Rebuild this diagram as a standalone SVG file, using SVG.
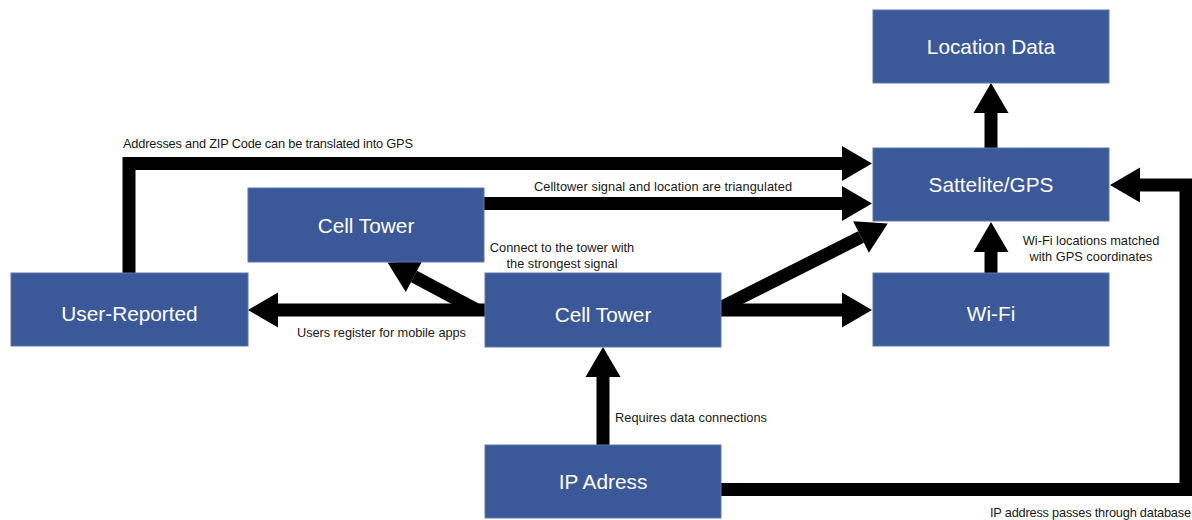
<svg xmlns="http://www.w3.org/2000/svg" width="1192" height="520" viewBox="0 0 1192 520">
<style>
.node rect{fill:#3b5998;stroke:#5d78b0;stroke-width:1}
.node text{fill:#ffffff;font-family:"Liberation Sans",Arial,sans-serif;font-size:20.8px;text-anchor:middle}
.conn path{fill:none;stroke:#000;stroke-width:13;stroke-linejoin:miter}
.lbl{fill:#1a1a1a;font-family:"Liberation Sans",Arial,sans-serif;font-size:12.8px}
.mid{text-anchor:middle}
</style>
<defs>
<marker id="ah" markerUnits="userSpaceOnUse" markerWidth="31" markerHeight="36" refX="0" refY="17.5" orient="auto" overflow="visible">
<path d="M0,0 L30,17.5 L0,35 Z" fill="#000"/>
</marker>
</defs>
<g class="conn" id="connectors">
<path d="M129,273 V163.5 H842" marker-end="url(#ah)"/>
<path d="M484,203.5 H842" marker-end="url(#ah)"/>
<path d="M722,307 L861,237" marker-end="url(#ah)"/>
<path d="M721,310 H842" marker-end="url(#ah)"/>
<path d="M485,310 H278" marker-end="url(#ah)"/>
<path d="M477,310 L414,276.5" marker-end="url(#ah)"/>
<path d="M991,273 V252" marker-end="url(#ah)"/>
<path d="M991,148 V113" marker-end="url(#ah)"/>
<path d="M603,445 V377" marker-end="url(#ah)"/>
<path d="M721,489.5 H1186 V185 H1140" marker-end="url(#ah)"/>
</g>
<g id="labels">
<text class="lbl" x="123" y="148" textLength="290" lengthAdjust="spacing">Addresses and ZIP Code can be translated into GPS</text>
<text class="lbl" x="534" y="191" textLength="258" lengthAdjust="spacing">Celltower signal and location are triangulated</text>
<text class="lbl mid" x="562" y="252">Connect to the tower with</text>
<text class="lbl mid" x="562" y="268">the strongest signal</text>
<text class="lbl" x="297" y="337" textLength="169" lengthAdjust="spacing">Users register for mobile apps</text>
<text class="lbl mid" x="1091" y="245">Wi-Fi locations matched</text>
<text class="lbl mid" x="1091" y="261">with GPS coordinates</text>
<text class="lbl" x="615" y="422" textLength="152" lengthAdjust="spacing">Requires data connections</text>
<text class="lbl" x="990" y="517" textLength="201" lengthAdjust="spacing">IP address passes through database</text>
</g>
<g class="node" id="location-data"><rect x="873" y="10" width="236" height="73"/><text x="991" y="54">Location Data</text></g>
<g class="node" id="satellite-gps"><rect x="873" y="148" width="236" height="73"/><text x="991" y="191.5">Sattelite/GPS</text></g>
<g class="node" id="wifi"><rect x="873" y="273" width="236" height="73"/><text x="991" y="321">Wi-Fi</text></g>
<g class="node" id="cell-tower-top"><rect x="248" y="188" width="236" height="74"/><text x="366" y="233">Cell Tower</text></g>
<g class="node" id="cell-tower-mid"><rect x="485" y="273" width="236" height="74"/><text x="603" y="321.5">Cell Tower</text></g>
<g class="node" id="user-reported"><rect x="11" y="273" width="237" height="73"/><text x="129.5" y="321">User-Reported</text></g>
<g class="node" id="ip-address"><rect x="485" y="445" width="236" height="73"/><text x="603" y="489">IP Adress</text></g>
</svg>
